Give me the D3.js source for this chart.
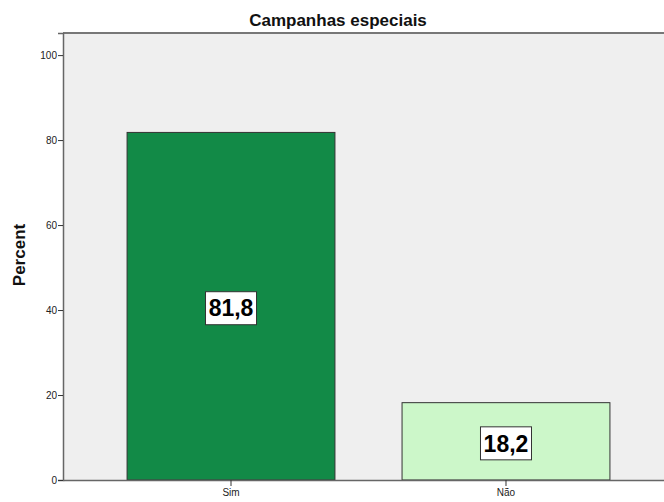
<!DOCTYPE html>
<html>
<head>
<meta charset="utf-8">
<script src="https://cdn.jsdelivr.net/npm/d3@7"></script>
<style>
html,body{margin:0;padding:0;background:#fff;}
svg{display:block;font-family:Arial,"Liberation Sans",sans-serif;}
</style>
</head>
<body>
<svg id="chart" width="664" height="502"></svg>
<script>
const categories = ["Sim", "Não"];
const values = [81.8, 18.2];
const valueLabels = ["81,8", "18,2"];
const yTicks = [0, 20, 40, 60, 80, 100];
const barColors = ["#128a47", "#ccf7c9"];
const title = "Campanhas especiais";
const yTitle = "Percent";

const svg = d3.select("#chart");
const pLeft = 63, pRight = 674, pTop = 33, pBottom = 480;

const x = d3.scaleBand().domain(categories).range([pLeft, pRight])
  .paddingInner(0.244).paddingOuter(0.233);
const y = d3.scaleLinear().domain([0, 105.2]).range([pBottom, pTop]);

// plot background
svg.append("rect").attr("x", pLeft).attr("y", pTop)
  .attr("width", pRight - pLeft).attr("height", pBottom - pTop)
  .attr("fill", "#efefef");
// top border
svg.append("line").attr("x1", pLeft).attr("x2", 664).attr("y1", pTop).attr("y2", pTop)
  .attr("stroke", "#777").attr("stroke-width", 2);

// bars
svg.selectAll("rect.bar").data(categories).enter().append("rect")
  .attr("class", "bar")
  .attr("x", d => x(d))
  .attr("y", (d, i) => y(values[i]))
  .attr("width", x.bandwidth())
  .attr("height", (d, i) => y(0) - y(values[i]))
  .attr("fill", (d, i) => barColors[i])
  .attr("stroke", "#333").attr("stroke-width", 1);

// value labels
const lab = svg.selectAll("g.lab").data(categories).enter().append("g")
  .attr("class", "lab")
  .attr("transform", (d, i) => `translate(${x(d) + x.bandwidth() / 2},${(y(values[i]) + y(0)) / 2 + 2})`);
lab.append("rect").attr("x", -25.5).attr("y", -16.5).attr("width", 51).attr("height", 33)
  .attr("fill", "#fff").attr("stroke", "#333").attr("stroke-width", 1);
lab.append("text").attr("text-anchor", "middle").attr("dy", "0.36em")
  .attr("font-size", 23).attr("font-weight", "bold").attr("fill", "#000")
  .text((d, i) => valueLabels[i]);

// axes
const yAxis = svg.append("g").attr("transform", `translate(${pLeft},0)`)
  .call(d3.axisLeft(y).tickValues(yTicks).tickSize(5).tickPadding(1));
yAxis.select(".domain").attr("stroke", "#666").attr("stroke-width", 1.5);
yAxis.selectAll(".tick line").attr("stroke", "#333");
yAxis.selectAll(".tick text").attr("font-size", 10).attr("fill", "#222")
  .attr("font-family", "Arial, 'Liberation Sans', sans-serif");

const xAxis = svg.append("g").attr("transform", `translate(0,${pBottom})`)
  .call(d3.axisBottom(x).tickSize(6).tickPadding(3).tickSizeOuter(0));
xAxis.select(".domain").attr("stroke", "#666").attr("stroke-width", 1.5);
xAxis.selectAll(".tick line").attr("stroke", "#333");
xAxis.selectAll(".tick text").attr("font-size", 10).attr("fill", "#222")
  .attr("font-family", "Arial, 'Liberation Sans', sans-serif");

// titles
svg.append("text").attr("x", 338).attr("y", 26).attr("text-anchor", "middle")
  .attr("font-size", 17).attr("font-weight", "bold").attr("fill", "#111").text(title);
svg.append("text").attr("transform", "translate(25,255) rotate(-90)")
  .attr("text-anchor", "middle").attr("font-size", 17).attr("font-weight", "bold")
  .attr("fill", "#111").text(yTitle);
</script>
</body>
</html>
